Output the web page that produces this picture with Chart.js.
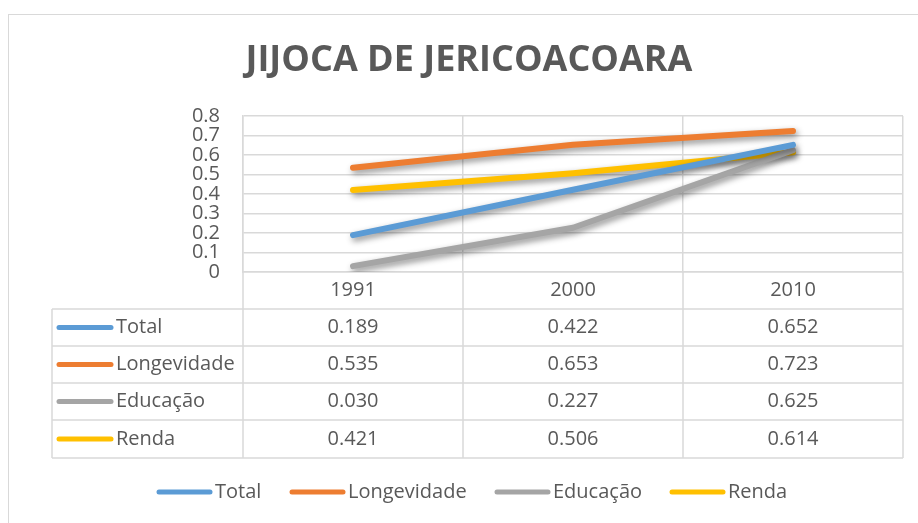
<!DOCTYPE html>
<html>
<head>
<meta charset="utf-8">
<script src="https://cdn.jsdelivr.net/npm/chart.js@4"></script>
<style>
  html, body { margin: 0; padding: 0; background: #fff; }
  #wrap { width: 918px; height: 523px; }
</style>
</head>
<body>
<div id="wrap"><canvas id="chart-idh" width="918" height="523"></canvas></div>
<script>
const anos = ["1991", "2000", "2010"];
const total = [0.189, 0.422, 0.652];
const longevidade = [0.535, 0.653, 0.723];
const educacao = [0.030, 0.227, 0.625];
const renda = [0.421, 0.506, 0.614];
const nomes = ["Total", "Longevidade", "Educação", "Renda"];
const cores = ["#5B9BD5", "#ED7D31", "#A5A5A5", "#FFC000"];
const yTicks = [0, 0.1, 0.2, 0.3, 0.4, 0.5, 0.6, 0.7, 0.8];

const FONTE = "'Open Sans', sans-serif";
const TXT = "#595959";
const GRADE = "#D9D9D9";

// sombra das linhas, como no Excel
const sombra = {
  id: "sombra",
  beforeDatasetsDraw(chart) {
    const c = chart.ctx;
    c.save();
    c.shadowColor = "rgba(0,0,0,0.45)";
    c.shadowBlur = 6;
    c.shadowOffsetX = 2;
    c.shadowOffsetY = 3;
  },
  afterDatasetsDraw(chart) {
    chart.ctx.restore();
  },
};

// titulo, tabela de dados, legenda e moldura
const tabela = {
  id: "tabela",
  afterDraw(chart) {
    const c = chart.ctx;
    const x = chart.scales.x;
    const area = chart.chartArea;
    const linhas = [309, 346, 383, 420, 458];
    const esq = 52;
    const series = chart.data.datasets;

    c.save();
    // moldura
    c.strokeStyle = GRADE;
    c.lineWidth = 1;
    c.strokeRect(8.5, 14.5, 930, 530);

    // titulo
    c.fillStyle = TXT;
    c.font = "bold 36px " + FONTE;
    c.textAlign = "center";
    c.textBaseline = "middle";
    c.fillText("JIJOCA DE JERICOACOARA", 469, 61);

    // linhas da tabela
    c.strokeStyle = GRADE;
    c.lineWidth = 1.5;
    c.beginPath();
    linhas.forEach((y) => {
      c.moveTo(esq, y);
      c.lineTo(area.right, y);
    });
    c.moveTo(esq, linhas[0]);
    c.lineTo(esq, linhas[4]);
    for (let i = 0; i <= anos.length; i++) {
      const px = x.getPixelForValue(i - 0.5);
      c.moveTo(px, area.bottom);
      c.lineTo(px, linhas[4]);
    }
    c.stroke();

    // conteudo
    c.font = "20px " + FONTE;
    series.forEach((ds, r) => {
      const yc = (linhas[r] + linhas[r + 1]) / 2;
      c.strokeStyle = ds.borderColor;
      c.lineWidth = 5;
      c.lineCap = "round";
      c.beginPath();
      c.moveTo(59, yc);
      c.lineTo(111, yc);
      c.stroke();
      c.fillStyle = TXT;
      c.textAlign = "left";
      c.fillText(ds.label, 116, yc);
      c.textAlign = "center";
      ds.data.forEach((v, i) => {
        c.fillText(v.toFixed(3), x.getPixelForValue(i), yc);
      });
    });

    // legenda
    const posLeg = [157, 290, 495, 670];
    series.forEach((ds, i) => {
      const y = 492;
      c.strokeStyle = ds.borderColor;
      c.lineWidth = 5;
      c.lineCap = "round";
      c.beginPath();
      c.moveTo(posLeg[i] + 2, y);
      c.lineTo(posLeg[i] + 53, y);
      c.stroke();
      c.fillStyle = TXT;
      c.textAlign = "left";
      c.fillText(ds.label, posLeg[i] + 58, y);
    });
    c.restore();
  },
};

document.addEventListener("DOMContentLoaded", function () {
  const ctx = document.getElementById("chart-idh");
  const valores = [total, longevidade, educacao, renda];

  new Chart(ctx, {
    type: "line",
    data: {
      labels: anos,
      datasets: valores.map((d, i) => ({
        label: nomes[i],
        data: d,
        borderColor: cores[i],
        backgroundColor: cores[i],
        borderWidth: 6,
        borderCapStyle: "round",
        borderJoinStyle: "round",
        pointRadius: 0,
        tension: 0,
      })),
    },
    options: {
      responsive: false,
      animation: false,
      layout: { padding: { top: 116, right: 15, bottom: 0, left: 0 } },
      plugins: {
        legend: { display: false },
        title: { display: false },
        tooltip: { enabled: false },
      },
      scales: {
        x: {
          offset: true,
          grid: { offset: true, color: GRADE, lineWidth: 1.5, drawTicks: false },
          border: { color: GRADE, width: 1.5 },
          ticks: { color: TXT, font: { family: FONTE, size: 20 }, padding: 6 },
          afterFit(scale) { scale.height = 251; },
        },
        y: {
          min: 0,
          max: 0.8,
          afterBuildTicks(scale) { scale.ticks = yTicks.map((v) => ({ value: v })); },
          grid: { color: GRADE, lineWidth: 1.5, drawTicks: false },
          border: { color: GRADE, width: 1.5 },
          ticks: { color: TXT, font: { family: FONTE, size: 20 }, padding: 23, autoSkip: false },
          afterFit(scale) { scale.width = 243; },
        },
      },
    },
    plugins: [sombra, tabela],
  });
});
</script>
</body>
</html>
